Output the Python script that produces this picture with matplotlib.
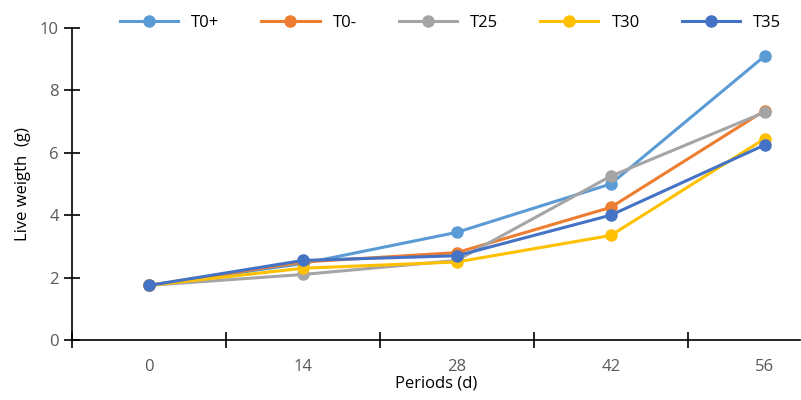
import matplotlib
matplotlib.use("Agg")
import matplotlib.pyplot as plt

periods = ["0", "14", "28", "42", "56"]
series_names = ["T0+", "T0-", "T25", "T30", "T35"]
t0p = [1.75, 2.45, 3.45, 5.0, 9.1]
t0m = [1.75, 2.5, 2.8, 4.25, 7.35]
t25 = [1.75, 2.1, 2.55, 5.25, 7.3]
t30 = [1.75, 2.3, 2.5, 3.35, 6.45]
t35 = [1.75, 2.55, 2.7, 4.0, 6.25]
colors = ["#5B9BD5", "#ED7D31", "#A5A5A5", "#FFC000", "#4472C4"]

plt.rcParams['font.family'] = ['Open Sans', 'DejaVu Sans']
fig = plt.figure(figsize=(8.01, 4.0), dpi=100)
ax = fig.add_axes([72/801, 60/400, 728/801, 312/400])
x = list(range(len(periods)))
for name, vals, c in zip(series_names, [t0p, t0m, t25, t30, t35], colors):
    ax.plot(x, vals, color=c, lw=2.2, marker='o', ms=8, label=name)
ax.set_xlim(-0.5, 4.23)
ax.set_ylim(0, 10)
ax.set_yticks(range(0, 11, 2))
ax.set_xticks(x)
ax.set_xticklabels(periods)
ax.set_xticks([-0.5, 0.5, 1.5, 2.5, 3.5], minor=True)
ax.tick_params(axis='x', which='major', length=0, pad=14, labelsize=12, labelcolor='#595959')
ax.tick_params(axis='x', which='minor', direction='inout', length=12, width=1.2)
ax.tick_params(axis='y', direction='inout', length=12, width=1.2, labelsize=12, labelcolor='#595959')
for s in ['top', 'right']:
    ax.spines[s].set_visible(False)
for s in ['left', 'bottom']:
    ax.spines[s].set_linewidth(1.2)
ax.set_ylabel("Live weigth  (g)", fontsize=12, labelpad=6)
ax.set_xlabel("Periods (d)", fontsize=12, labelpad=0)
ax.legend(loc='lower center', bbox_to_anchor=(0.52, 0.97), ncol=5, frameon=False,
          fontsize=12, handlelength=3.5, columnspacing=2.5, borderaxespad=0)
fig.savefig("out.png", dpi=100)
